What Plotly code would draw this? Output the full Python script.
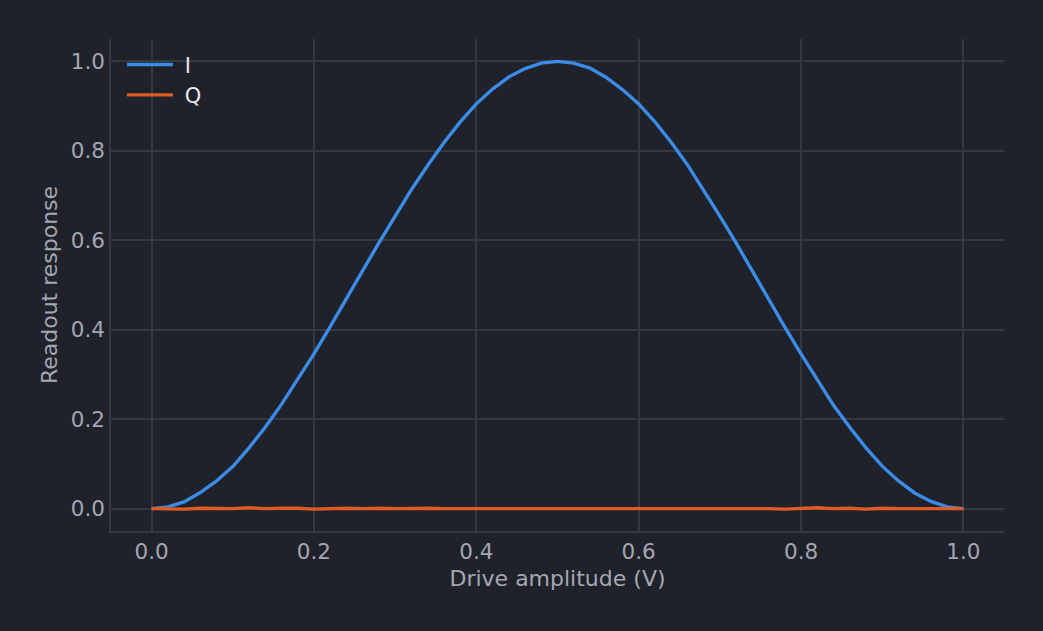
import plotly.graph_objects as go

# Rabi-style sweep: drive amplitude vs readout quadratures
drive_amplitude = [
    0.00, 0.02, 0.04, 0.06, 0.08, 0.10, 0.12, 0.14, 0.16, 0.18,
    0.20, 0.22, 0.24, 0.26, 0.28, 0.30, 0.32, 0.34, 0.36, 0.38,
    0.40, 0.42, 0.44, 0.46, 0.48, 0.50, 0.52, 0.54, 0.56, 0.58,
    0.60, 0.62, 0.64, 0.66, 0.68, 0.70, 0.72, 0.74, 0.76, 0.78,
    0.80, 0.82, 0.84, 0.86, 0.88, 0.90, 0.92, 0.94, 0.96, 0.98,
    1.00,
]
i_response = [
    0.000, 0.004, 0.015, 0.036, 0.062, 0.094, 0.136, 0.182, 0.233, 0.288,
    0.346, 0.407, 0.468, 0.532, 0.594, 0.655, 0.713, 0.767, 0.818, 0.864,
    0.905, 0.938, 0.965, 0.984, 0.996, 1.000, 0.996, 0.985, 0.964, 0.937,
    0.905, 0.865, 0.819, 0.769, 0.712, 0.654, 0.594, 0.531, 0.469, 0.406,
    0.346, 0.287, 0.231, 0.182, 0.136, 0.095, 0.062, 0.035, 0.016, 0.004,
    0.000,
]
q_response = [
    0.000, 0.000, -0.001, 0.001, 0.000, 0.000, 0.002, 0.000, 0.001, 0.001,
    -0.001, 0.000, 0.001, 0.000, 0.001, 0.000, 0.001, 0.001, 0.000, 0.000,
    0.000, 0.001, 0.001, 0.000, 0.000, 0.000, 0.001, 0.001, 0.000, 0.000,
    0.000, 0.000, 0.001, 0.000, 0.001, 0.000, 0.001, 0.000, 0.000, -0.001,
    0.000, 0.002, 0.000, 0.001, -0.001, 0.001, 0.000, 0.000, 0.000, 0.000,
    0.000,
]
series_names = ["I", "Q"]

BG = "#1f212b"
GRID = "#363841"
TICK_COLOR = "#a4a7b1"
FONT = "DejaVu Sans"

fig = go.Figure()
fig.add_trace(
    go.Scatter(
        x=drive_amplitude,
        y=i_response,
        mode="lines",
        name="\u00a0" + series_names[0],  # nbsp pushes label off the swatch
        line=dict(color="#3b8ce6", width=3.4),
    )
)
fig.add_trace(
    go.Scatter(
        x=drive_amplitude,
        y=q_response,
        mode="lines",
        name="\u00a0" + series_names[1],
        line=dict(color="#e05a24", width=3.4),
    )
)

axis_style = dict(
    showgrid=True,
    gridcolor=GRID,
    gridwidth=1.5,
    zeroline=False,
    showline=True,
    linecolor=GRID,
    linewidth=1.5,
    ticks="",
    tickfont=dict(family=FONT, size=21.5, color=TICK_COLOR),
    tickformat=".1f",
    dtick=0.2,
    range=[-0.05, 1.05],
)

fig.update_xaxes(
    **axis_style,
    title=dict(
        text="Drive amplitude (V)",
        font=dict(family=FONT, size=22, color=TICK_COLOR),
        standoff=8,
    ),
)
fig.update_yaxes(
    **axis_style,
    title=dict(
        text="Readout response",
        font=dict(family=FONT, size=22, color=TICK_COLOR),
        standoff=7,
    ),
)

fig.update_layout(
    width=1043,
    height=631,
    paper_bgcolor=BG,
    plot_bgcolor=BG,
    margin=dict(l=111, r=39, t=39, b=100),
    showlegend=True,
    legend=dict(
        x=0.0123,
        y=0.989,
        xanchor="left",
        yanchor="top",
        itemwidth=46,
        bgcolor="rgba(0,0,0,0)",
        font=dict(family=FONT, size=21, color="#e8e8ec"),
    ),
)

fig.write_html(
    "out.html",
    config={"displayModeBar": False},
    post_script="document.body.style.margin='0';document.body.style.background='#1f212b';",
)
